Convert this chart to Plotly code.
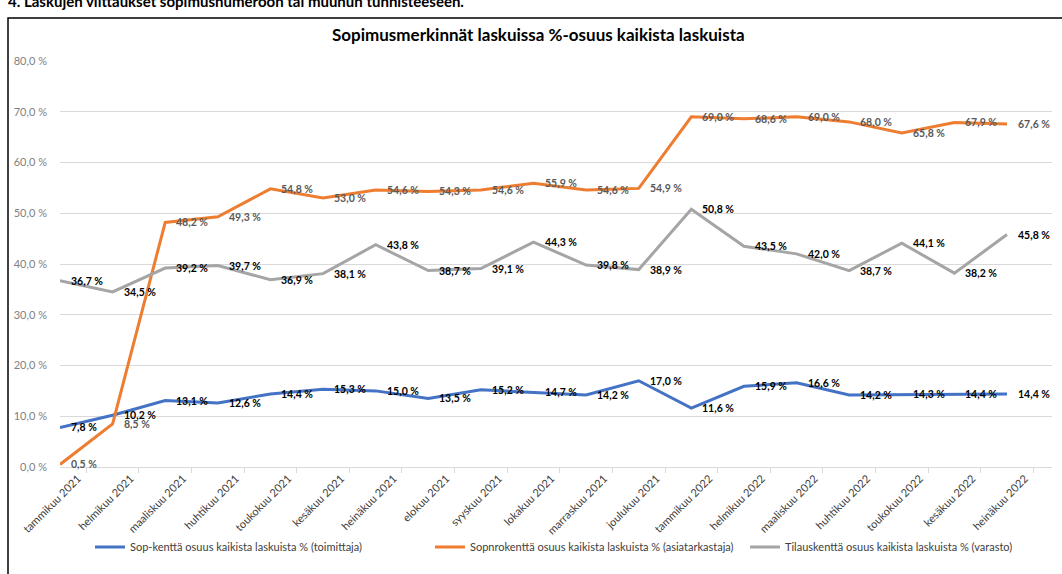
import plotly.graph_objects as go

months = ["tammikuu 2021", "helmikuu 2021", "maaliskuu 2021", "huhtikuu 2021", "toukokuu 2021",
          "kesäkuu 2021", "heinäkuu 2021", "elokuu 2021", "syyskuu 2021", "lokakuu 2021",
          "marraskuu 2021", "joulukuu 2021", "tammikuu 2022", "helmikuu 2022", "maaliskuu 2022",
          "huhtikuu 2022", "toukokuu 2022", "kesäkuu 2022", "heinäkuu 2022"]

sop_kentta = [7.8, 10.2, 13.1, 12.6, 14.4, 15.3, 15.0, 13.5, 15.2, 14.7, 14.2, 17.0, 11.6,
              15.9, 16.6, 14.2, 14.3, 14.4, 14.4]
sopnro_kentta = [0.5, 8.5, 48.2, 49.3, 54.8, 53.0, 54.6, 54.3, 54.6, 55.9, 54.6, 54.9, 69.0,
                 68.6, 69.0, 68.0, 65.8, 67.9, 67.6]
tilaus_kentta = [36.7, 34.5, 39.2, 39.7, 36.9, 38.1, 43.8, 38.7, 39.1, 44.3, 39.8, 38.9, 50.8,
                 43.5, 42.0, 38.7, 44.1, 38.2, 45.8]

series_names = ["Sop-kenttä osuus kaikista laskuista % (toimittaja)",
                "Sopnrokenttä osuus kaikista laskuista % (asiatarkastaja)",
                "Tilauskenttä osuus kaikista laskuista % (varasto)"]

title_text = "Sopimusmerkinnät laskuissa %-osuus kaikista laskuista"
header_text = "4. Laskujen viittaukset sopimusnumeroon tai muuhun tunnisteeseen."

colors = ["#4472C4", "#ED7D31", "#A5A5A5"]
label_colors = ["#000000", "#595959", "#000000"]
FONT = "Lato"

W, H = 1062, 574
L, R, T, B = 60, 10, 61, 107
PW, PH = W - L - R, H - T - B


def px_x(px):
    return (px - L) / PW


def px_y(py):
    return (H - B - py) / PH


def fmt(v):
    return f"{v:.1f}".replace(".", ",") + " %"


legend_ids = ["legend", "legend2", "legend3"]
legend_px = [90, 430, 745]

fig = go.Figure()
all_series = [sop_kentta, sopnro_kentta, tilaus_kentta]
for name, vals, col, lid in zip(series_names, all_series, colors, legend_ids):
    fig.add_trace(go.Scatter(x=months, y=vals, mode="lines", name=name, legend=lid,
                             line=dict(color=col, width=3)))

annotations = []
for vals, lc in zip(all_series, label_colors):
    for i, v in enumerate(vals):
        annotations.append(dict(x=months[i], y=v, xref="x", yref="y", text=fmt(v),
                                showarrow=False, xanchor="left", yanchor="middle",
                                xshift=9,
                                font=dict(family=FONT, size=10.5, color=lc, weight="bold")))

annotations.append(dict(text=f"<b>{title_text}</b>", xref="paper", yref="paper",
                        x=px_x(538), y=px_y(35), xanchor="center", yanchor="middle",
                        showarrow=False, font=dict(family=FONT, size=17, color="#000000")))
annotations.append(dict(text=f"<b>{header_text}</b>", xref="paper", yref="paper",
                        x=px_x(6), y=px_y(1), xanchor="left", yanchor="middle",
                        showarrow=False, font=dict(family=FONT, size=15, color="#000000")))

legend_style = dict(orientation="h", yanchor="middle", xanchor="left",
                    font=dict(family=FONT, size=11, color="#404040"),
                    bgcolor="rgba(0,0,0,0)")

fig.update_layout(
    width=W, height=H,
    margin=dict(l=L, r=R, t=T, b=B, autoexpand=False),
    paper_bgcolor="white", plot_bgcolor="white",
    separators=", ",
    font=dict(family=FONT, size=11, color="#595959"),
    showlegend=True,
    legend=dict(x=px_x(legend_px[0]), y=px_y(547), **legend_style),
    legend2=dict(x=px_x(legend_px[1]), y=px_y(547), **legend_style),
    legend3=dict(x=px_x(legend_px[2]), y=px_y(547), **legend_style),
    annotations=annotations,
    shapes=[dict(type="rect", xref="paper", yref="paper",
                 x0=px_x(8), x1=px_x(1070),
                 y0=px_y(590), y1=px_y(18),
                 line=dict(color="#000000", width=1.5), fillcolor="rgba(0,0,0,0)", layer="below")],
)

fig.update_xaxes(type="category", tickangle=-45, showgrid=False, automargin=False,
                 showline=True, linecolor="#D9D9D9", linewidth=1,
                 ticks="outside", tickson="boundaries", ticklen=5, tickcolor="#D9D9D9",
                 ticklabelshift=18,
                 tickfont=dict(family=FONT, size=11, color="#404040"))
fig.update_yaxes(range=[0, 80], dtick=10, tickformat=".1f", ticksuffix=" %", automargin=False,
                 showgrid=True, gridcolor="#D9D9D9", gridwidth=1, zeroline=False,
                 showline=False, ticks="", ticklabelstandoff=12,
                 tickfont=dict(family=FONT, size=11, color="#7F7F7F"))

fig.write_html("out.html", config={"displayModeBar": False},
               post_script="document.body.style.margin='0';document.body.style.overflow='hidden';")
